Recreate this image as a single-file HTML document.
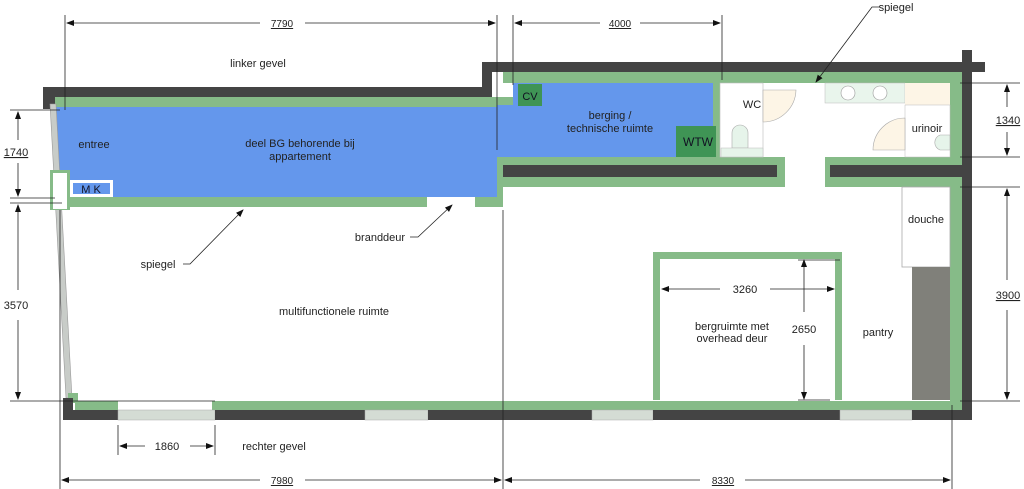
<!DOCTYPE html>
<html><head><meta charset="utf-8"><style>
html,body{margin:0;padding:0;background:#fff;}
svg{display:block;font-family:"Liberation Sans",sans-serif;}
</style></head><body>
<svg width="1024" height="489" viewBox="0 0 1024 489" xmlns="http://www.w3.org/2000/svg">
<defs>
<marker id="a" markerWidth="8" markerHeight="8" refX="7" refY="4" orient="auto" markerUnits="userSpaceOnUse"><path d="M0,1 L8,4 L0,7 Z" fill="#111"/></marker>
<marker id="b" markerWidth="8" markerHeight="8" refX="1" refY="4" orient="auto" markerUnits="userSpaceOnUse"><path d="M8,1 L0,4 L8,7 Z" fill="#111"/></marker>
</defs>
<!-- dark outer walls -->
<rect x="43" y="87" width="449" height="10" fill="#444"/>
<rect x="43" y="87" width="12" height="22" fill="#444"/>
<rect x="482" y="62" width="503" height="10" fill="#444"/>
<rect x="482" y="62" width="10" height="35" fill="#444"/>
<rect x="962" y="50" width="10" height="370" fill="#444"/>
<rect x="492" y="75" width="11" height="22" fill="#fff"/>
<!-- green linings top -->
<rect x="55" y="97" width="458" height="10" fill="#86bb88"/>
<rect x="503" y="72" width="459" height="11" fill="#86bb88"/>
<rect x="950" y="72" width="12" height="338" fill="#86bb88"/>
<!-- blue -->
<rect x="55" y="107" width="442" height="90" fill="#6497ec"/>
<rect x="513" y="83" width="200" height="74" fill="#6497ec"/>
<rect x="497" y="105" width="16" height="52" fill="#6497ec"/>
<path d="M52,107 L55,107 L55,200 L60,200 Z" fill="#6497ec"/>
<!-- divider -->
<rect x="497" y="157" width="288" height="30" fill="#86bb88"/>
<rect x="502" y="165" width="275" height="12" fill="#444"/>
<rect x="825" y="157" width="125" height="30" fill="#86bb88"/>
<rect x="830" y="165" width="132" height="12" fill="#444"/>
<rect x="713" y="83" width="7" height="74" fill="#86bb88"/>
<!-- lower blue edge -->
<rect x="55" y="197" width="372" height="10" fill="#86bb88"/>
<rect x="475" y="197" width="28" height="10" fill="#86bb88"/>
<rect x="497" y="157" width="6" height="50" fill="#86bb88"/>
<!-- entree window -->
<path d="M50,104 L56,104 L72,398 L66,398 Z" fill="#c8ccc8" stroke="#999" stroke-width="0.6"/>
<rect x="50" y="170" width="20" height="40" fill="#86bb88"/>
<rect x="53" y="173" width="14" height="36" fill="#fff"/>
<rect x="70" y="180" width="43" height="17" fill="#fff"/>
<rect x="73" y="183" width="37" height="11" fill="#6497ec"/>
<text x="91" y="193" font-size="11" fill="#112" text-anchor="middle">M K</text>
<rect x="518" y="84" width="24" height="22" fill="#3f9455"/>
<text x="530" y="100" font-size="11" fill="#112" text-anchor="middle">CV</text>
<rect x="676" y="126" width="40" height="31" fill="#3f9455"/>
<text x="698" y="146" font-size="12" fill="#112" text-anchor="middle">WTW</text>
<!-- WC & sanitary -->
<rect x="720" y="83" width="43" height="74" fill="#fff" stroke="#bbb" stroke-width="0.6"/>
<path d="M732,148 L732,133 A8,8 0 0 1 748,133 L748,148 Z" fill="#e6f4ea" stroke="#aaa" stroke-width="0.6"/>
<rect x="721" y="148" width="42" height="9" fill="#e6f4ea" stroke="#bbb" stroke-width="0.5"/>
<path d="M763,90 L796,90 A33,33 0 0 1 763,122 Z" fill="#fdf5e6" stroke="#aaa" stroke-width="0.6"/>
<rect x="825" y="83" width="80" height="20" fill="#e9f5ec" stroke="#bbb" stroke-width="0.5"/>
<circle cx="848" cy="93" r="7" fill="#fff" stroke="#999" stroke-width="0.6"/>
<circle cx="880" cy="93" r="7" fill="#fff" stroke="#999" stroke-width="0.6"/>
<rect x="905" y="83" width="45" height="22" fill="#fdf5e6"/>
<rect x="905" y="105" width="45" height="52" fill="#fff" stroke="#bbb" stroke-width="0.5"/>
<path d="M905,150 L905,118 A32,32 0 0 0 873,150 Z" fill="#fdf5e6" stroke="#aaa" stroke-width="0.6"/>
<path d="M950,135 L940,135 A8,8 0 0 0 940,150 L950,150 Z" fill="#e6f4ea" stroke="#aaa" stroke-width="0.6"/>
<!-- douche / pantry -->
<rect x="902" y="187" width="48" height="80" fill="#fff" stroke="#aaa" stroke-width="0.8"/>
<rect x="912" y="267" width="38" height="133" fill="#80807a"/>
<!-- bergruimte -->
<rect x="653" y="252" width="189" height="7" fill="#86bb88"/>
<rect x="653" y="252" width="7" height="148" fill="#86bb88"/>
<rect x="835" y="252" width="7" height="148" fill="#86bb88"/>
<!-- bottom walls -->
<rect x="75" y="401" width="43" height="9" fill="#86bb88"/>
<rect x="68" y="393" width="10" height="10" fill="#86bb88"/>
<rect x="212" y="401" width="750" height="9" fill="#86bb88"/>
<rect x="63" y="398" width="10" height="22" fill="#444"/>
<rect x="63" y="410" width="55" height="10" fill="#444"/>
<rect x="118" y="410" width="97" height="10" fill="#d4dcd4" stroke="#aaa" stroke-width="0.5"/>
<rect x="215" y="410" width="150" height="10" fill="#444"/>
<rect x="365" y="410" width="63" height="10" fill="#d4dcd4" stroke="#aaa" stroke-width="0.5"/>
<rect x="428" y="410" width="164" height="10" fill="#444"/>
<rect x="592" y="410" width="61" height="10" fill="#d4dcd4" stroke="#aaa" stroke-width="0.5"/>
<rect x="653" y="410" width="187" height="10" fill="#444"/>
<rect x="840" y="410" width="72" height="10" fill="#d4dcd4" stroke="#aaa" stroke-width="0.5"/>
<rect x="912" y="410" width="60" height="10" fill="#444"/>
<!-- dimension lines -->
<g stroke="#222" stroke-width="0.8" fill="none">
<line x1="65" y1="15" x2="65" y2="110"/>
<line x1="497" y1="15" x2="497" y2="150"/>
<line x1="513" y1="15" x2="513" y2="85"/>
<line x1="722" y1="15" x2="722" y2="80"/>
<line x1="67" y1="23" x2="260" y2="23" marker-start="url(#b)"/>
<line x1="305" y1="23" x2="495" y2="23" marker-end="url(#a)"/>
<line x1="515" y1="23" x2="600" y2="23" marker-start="url(#b)"/>
<line x1="640" y1="23" x2="720" y2="23" marker-end="url(#a)"/>
<line x1="10" y1="110" x2="60" y2="110"/>
<line x1="10" y1="198" x2="55" y2="198"/>
<line x1="10" y1="203" x2="62" y2="203"/>
<line x1="10" y1="401" x2="215" y2="401"/>
<line x1="18" y1="112" x2="18" y2="140" marker-start="url(#b)"/>
<line x1="18" y1="163" x2="18" y2="196" marker-end="url(#a)"/>
<line x1="18" y1="205" x2="18" y2="290" marker-start="url(#b)"/>
<line x1="18" y1="320" x2="18" y2="399" marker-end="url(#a)"/>
<line x1="960" y1="83" x2="1020" y2="83"/>
<line x1="960" y1="157" x2="1020" y2="157"/>
<line x1="960" y1="187" x2="1020" y2="187"/>
<line x1="960" y1="401" x2="1020" y2="401"/>
<line x1="1007" y1="85" x2="1007" y2="107" marker-start="url(#b)"/>
<line x1="1007" y1="132" x2="1007" y2="155" marker-end="url(#a)"/>
<line x1="1007" y1="189" x2="1007" y2="280" marker-start="url(#b)"/>
<line x1="1007" y1="310" x2="1007" y2="399" marker-end="url(#a)"/>
<line x1="60" y1="210" x2="60" y2="489"/>
<line x1="503" y1="210" x2="503" y2="489"/>
<line x1="952" y1="405" x2="952" y2="489"/>
<line x1="118" y1="425" x2="118" y2="455"/>
<line x1="215" y1="425" x2="215" y2="455"/>
<line x1="120" y1="446" x2="145" y2="446" marker-start="url(#b)"/>
<line x1="190" y1="446" x2="213" y2="446" marker-end="url(#a)"/>
<line x1="62" y1="480" x2="260" y2="480" marker-start="url(#b)"/>
<line x1="305" y1="480" x2="501" y2="480" marker-end="url(#a)"/>
<line x1="505" y1="480" x2="700" y2="480" marker-start="url(#b)"/>
<line x1="745" y1="480" x2="950" y2="480" marker-end="url(#a)"/>
<line x1="662" y1="289" x2="720" y2="289" marker-start="url(#b)"/>
<line x1="770" y1="289" x2="834" y2="289" marker-end="url(#a)"/>
<line x1="798" y1="260" x2="840" y2="260"/>
<line x1="798" y1="400" x2="830" y2="400"/>
<line x1="804" y1="260" x2="804" y2="312" marker-start="url(#b)"/>
<line x1="804" y1="345" x2="804" y2="399" marker-end="url(#a)"/>
<!-- leaders -->
<polyline points="880,7 872,7 816,82" marker-end="url(#a)"/>
<polyline points="183,264 190,264 243,210" marker-end="url(#a)"/>
<polyline points="410,237 418,237 452,205" marker-end="url(#a)"/>
</g>
<g font-size="11" fill="#222" text-anchor="middle">
<text x="282" y="27" text-decoration="underline" font-size="10">7790</text>
<text x="620" y="27" text-decoration="underline" font-size="10">4000</text>
<text x="16" y="156" text-decoration="underline">1740</text>
<text x="16" y="309">3570</text>
<text x="1008" y="124" text-decoration="underline">1340</text>
<text x="1008" y="299" text-decoration="underline">3900</text>
<text x="167" y="450">1860</text>
<text x="282" y="484" text-decoration="underline" font-size="10">7980</text>
<text x="723" y="484" text-decoration="underline" font-size="10">8330</text>
<text x="745" y="293">3260</text>
<text x="804" y="333">2650</text>
</g>
<g font-size="11" fill="#222" text-anchor="middle">
<text x="258" y="67">linker gevel</text>
<text x="94" y="148">entree</text>
<text x="300" y="147">deel BG behorende bij</text>
<text x="300" y="160">appartement</text>
<text x="610" y="119">berging /</text>
<text x="610" y="132">technische ruimte</text>
<text x="752" y="108">WC</text>
<text x="927" y="132">urinoir</text>
<text x="896" y="11">spiegel</text>
<text x="926" y="223">douche</text>
<text x="158" y="268">spiegel</text>
<text x="380" y="241">branddeur</text>
<text x="334" y="315">multifunctionele ruimte</text>
<text x="732" y="330">bergruimte met</text>
<text x="732" y="342">overhead deur</text>
<text x="878" y="336">pantry</text>
<text x="274" y="450">rechter gevel</text>
</g>
</svg>
</body></html>
